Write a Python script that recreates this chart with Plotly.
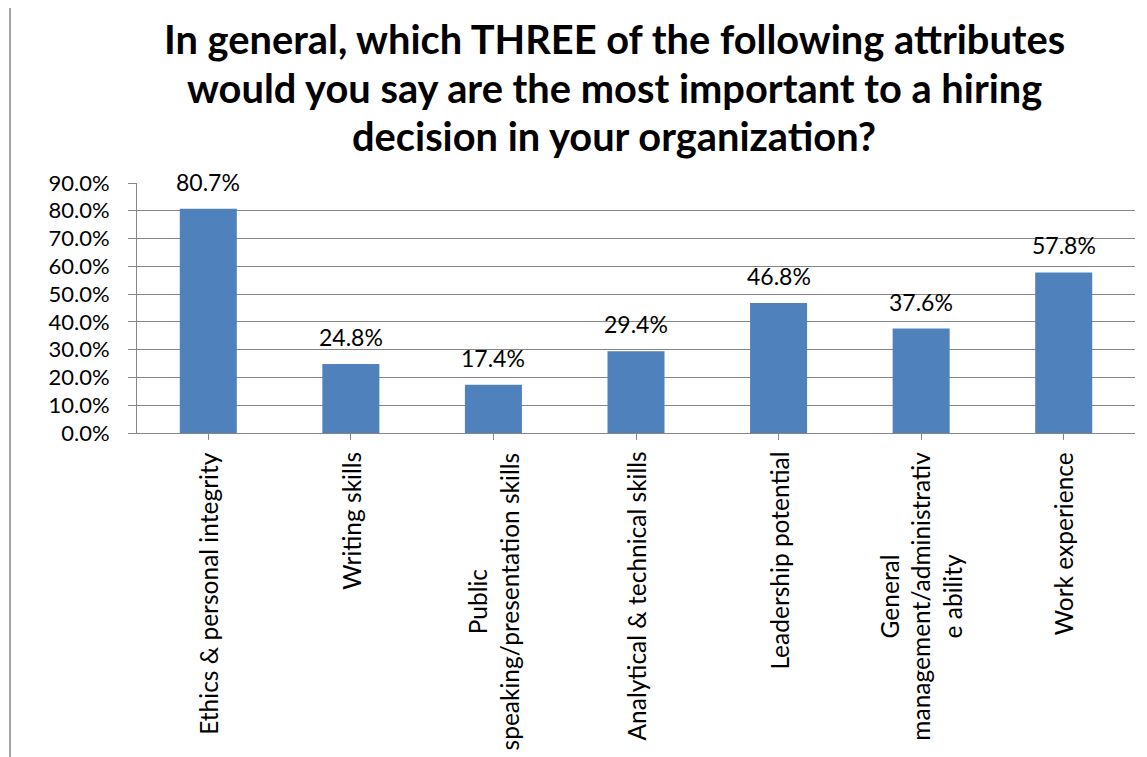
import plotly.graph_objects as go

categories = [
    "Ethics & personal integrity",
    "Writing skills",
    "Public<br>speaking/presentation skills",
    "Analytical & technical skills",
    "Leadership potential",
    "General<br>management/administrativ<br>e ability",
    "Work experience",
]
values = [0.807, 0.248, 0.174, 0.294, 0.468, 0.376, 0.578]
title_lines = [
    "In general, which THREE of the following attributes",
    "would you say are the most important to a hiring",
    "decision in your organization?",
]

OFF = 8  # browser body margin
W, H = 1147 - OFF, 757 - OFF
L, T = 137 - OFF, 183 - OFF
pw, ph = 998, 250
R = W - L - pw
B = H - T - ph

FONT = "Lato"
GRID = "#868686"
BAR = "#4F81BD"


def px_x(p):  # page x -> paper x
    return (p - OFF - L) / pw


def px_y(p):  # page y -> paper y
    return (T + ph - (p - OFF)) / ph


fig = go.Figure()
fig.add_trace(go.Bar(
    x=list(range(len(categories))), y=values,
    marker=dict(color=BAR, line=dict(width=0)),
    width=0.4,
    hoverinfo="skip",
))

annotations = []
for i, v in enumerate(values):
    annotations.append(dict(
        x=i, y=v, xref="x", yref="y", text=f"{v*100:.1f}%",
        showarrow=False, yanchor="bottom", yshift=11,
        font=dict(family=FONT, size=23, color="#000"),
    ))
for i, c in enumerate(categories):
    annotations.append(dict(
        x=i, y=px_y(450), xref="x", yref="paper", text=c,
        showarrow=False, textangle=-90, yanchor="top", xanchor="center",
        align="center",
        font=dict(family=FONT, size=24.5, color="#000"),
    ))
for j, line in enumerate(title_lines):
    annotations.append(dict(
        x=px_x(614), y=px_y(39 + 48 * j), xref="paper", yref="paper",
        text=f"<b>{line}</b>", showarrow=False,
        xanchor="center", yanchor="middle",
        font=dict(family=FONT, size=39.8, color="#000"),
    ))

fig.update_layout(
    width=W, height=H,
    margin=dict(l=L, r=R, t=T, b=B, autoexpand=False),
    paper_bgcolor="white", plot_bgcolor="white",
    showlegend=False,
    annotations=annotations,
    shapes=[
        dict(type="line", xref="paper", yref="paper",
             x0=px_x(10), x1=px_x(1160), y0=px_y(7), y1=px_y(7),
             line=dict(color=GRID, width=1.5)),
        dict(type="line", xref="paper", yref="paper",
             x0=px_x(10), x1=px_x(10), y0=px_y(7), y1=px_y(770),
             line=dict(color=GRID, width=1.5)),
    ],
    xaxis=dict(
        range=[-0.5, len(categories) - 0.5],
        tickmode="array", tickvals=list(range(len(categories))),
        ticktext=["" for _ in categories],
        tickson="boundaries", ticks="outside", ticklen=6, tickcolor=GRID,
        showline=True, linecolor=GRID, linewidth=1,
        showgrid=False, zeroline=False, fixedrange=True,
    ),
    yaxis=dict(
        range=[0, 0.9], dtick=0.1, tick0=0, tickformat=".1%",
        ticks="outside", ticklen=8, tickcolor=GRID,
        showline=True, linecolor=GRID, linewidth=1,
        showgrid=True, gridcolor=GRID, gridwidth=1,
        zeroline=False, ticklabelstandoff=14,
        tickfont=dict(family=FONT, size=22, color="#000"),
        fixedrange=True,
    ),
)

fig.write_html("out.html", config={"displayModeBar": False})
